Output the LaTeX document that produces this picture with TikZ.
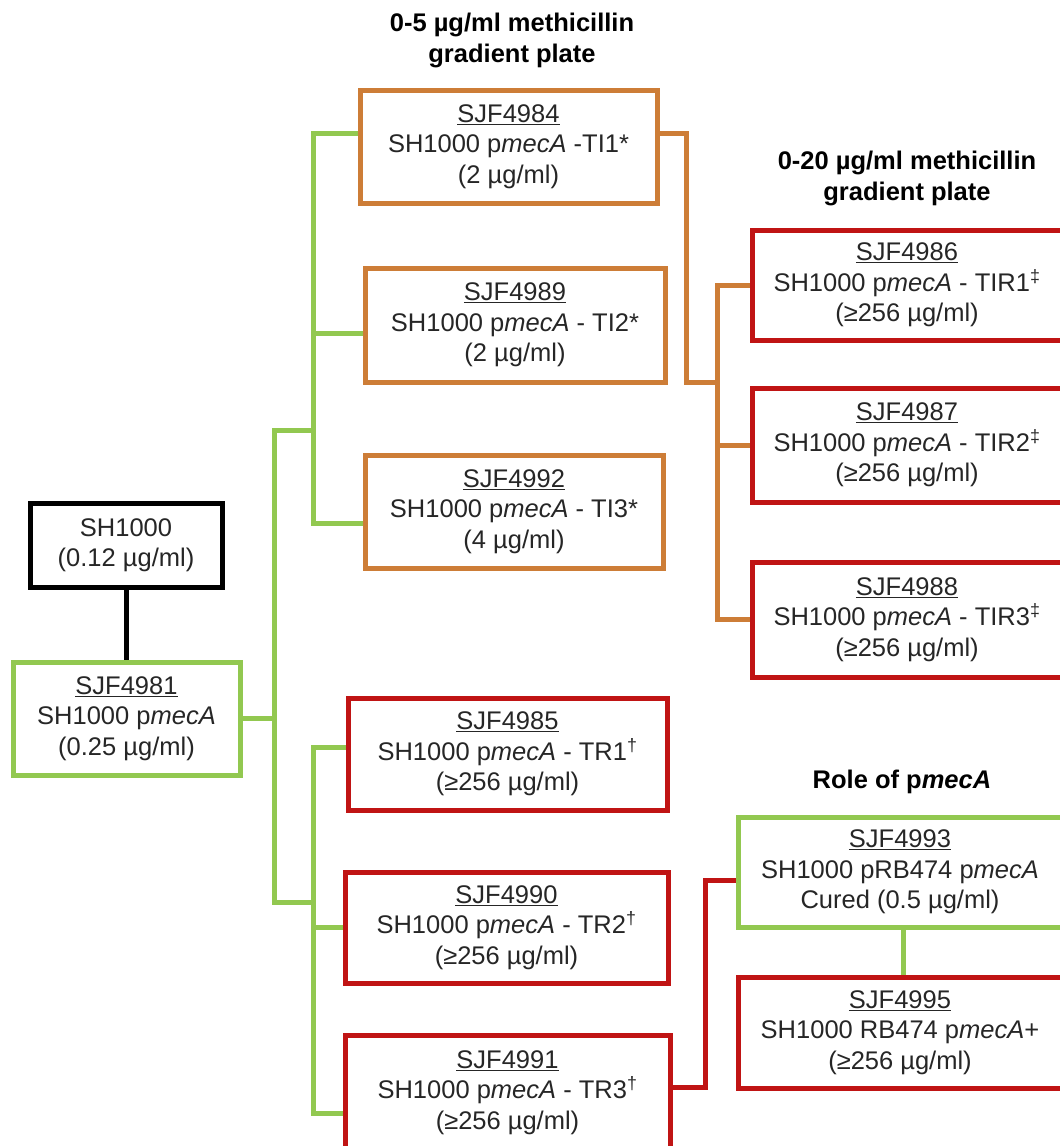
\documentclass[tikz,border=0pt]{standalone}
\usepackage{fontspec}
\setmainfont{Liberation Sans}
\usetikzlibrary{backgrounds}
\definecolor{lgreen}{RGB}{146,200,80}
\definecolor{dorange}{RGB}{205,125,55}
\definecolor{dred}{RGB}{192,20,20}
\definecolor{txt}{RGB}{38,38,38}

\newcommand{\strainid}[1]{\underline{#1}}
\newcommand{\pmecA}{p\textit{mecA}}
\newcommand{\supdag}{\textsuperscript{†}}
\newcommand{\supddag}{\textsuperscript{‡}}

\begin{document}
\begin{tikzpicture}[x=1pt,y=-1pt,
  box/.style={draw=#1, line width=5pt, fill=white, align=center, inner sep=0pt,
    text=txt, font=\fontsize{25.5}{30.5}\selectfont},
  wh/.style 2 args={minimum width=#1, minimum height=#2},
  title/.style={align=center, inner sep=0pt, font=\bfseries\fontsize{25.5}{31}\selectfont},
  link/.style={draw=#1, line width=5pt, line cap=rect, line join=miter}]

\useasboundingbox (0,0) rectangle (1060,1146);
\clip (0,0) rectangle (1060,1146);

% column headings
\node[title] (t1) at (512,40) {0-5 µg/ml methicillin\\gradient plate};
\node[title] (t2) at (907,178) {0-20 µg/ml methicillin\\gradient plate};
\node[title] (t3) at (902,782) {Role of p\textit{mecA}};

% parent strains
\node[box=black, wh={192}{84}] (sh) at (126,545) {SH1000\\(0.12 µg/ml)};
\node[box=lgreen, wh={227}{113}] (s4981) at (126.5,718.5)
  {\strainid{SJF4981}\\SH1000 \pmecA\\(0.25 µg/ml)};

% intermediate strains (0-5 plate)
\node[box=dorange, wh={297}{113}] (s4984) at (508.5,146.5)
  {\strainid{SJF4984}\\SH1000 \pmecA\ -TI1*\\(2 µg/ml)};
\node[box=dorange, wh={300}{114}] (s4989) at (515,325)
  {\strainid{SJF4989}\\SH1000 \pmecA\ - TI2*\\(2 µg/ml)};
\node[box=dorange, wh={298}{113}] (s4992) at (514,511.5)
  {\strainid{SJF4992}\\SH1000 \pmecA\ - TI3*\\(4 µg/ml)};

% resistant strains from the 0-20 plate
\node[box=dred, wh={310}{110}] (s4986) at (907,285)
  {\strainid{SJF4986}\\SH1000 \pmecA\ - TIR1\supddag\\(≥256 µg/ml)};
\node[box=dred, wh={310}{114}] (s4987) at (907,445)
  {\strainid{SJF4987}\\SH1000 \pmecA\ - TIR2\supddag\\(≥256 µg/ml)};
\node[box=dred, wh={310}{115}] (s4988) at (907,619.5)
  {\strainid{SJF4988}\\SH1000 \pmecA\ - TIR3\supddag\\(≥256 µg/ml)};

% directly resistant strains
\node[box=dred, wh={319}{112}] (s4985) at (507.5,754)
  {\strainid{SJF4985}\\SH1000 \pmecA\ - TR1\supdag\\(≥256 µg/ml)};
\node[box=dred, wh={323}{111}] (s4990) at (506.5,927.5)
  {\strainid{SJF4990}\\SH1000 \pmecA\ - TR2\supdag\\(≥256 µg/ml)};
\node[box=dred, wh={325}{115}] (s4991) at (507.5,1092.5)
  {\strainid{SJF4991}\\SH1000 \pmecA\ - TR3\supdag\\(≥256 µg/ml)};

% role of pmecA
\node[box=lgreen, wh={324}{110}] (s4993) at (900,872)
  {\strainid{SJF4993}\\SH1000 pRB474 \pmecA\\Cured (0.5 µg/ml)};
\node[box=dred, wh={324}{111}] (s4995) at (900,1032.5)
  {\strainid{SJF4995}\\SH1000 RB474 \pmecA+\\(≥256 µg/ml)};

% junction points of the trees
\coordinate (gA) at (274,718.5);
\coordinate (gTop) at (274,430);
\coordinate (gBot) at (274,902);
\coordinate (uTop) at (313,430);
\coordinate (lTop) at (313,902);
\coordinate (u1) at (313,133);
\coordinate (u3) at (313,523);
\coordinate (l1) at (313,747);
\coordinate (l3) at (313,1113);
\coordinate (o1) at (686,133);
\coordinate (o2) at (686,382);
\coordinate (o3) at (717,382);
\coordinate (oTop) at (717,285);
\coordinate (oBot) at (717,619.5);
\coordinate (r1) at (705,1087);
\coordinate (r2) at (705,880);
\coordinate (cx) at (903,0);

\begin{pgfonlayer}{background}
  \draw[link=black] (sh.south) -- (sh.south |- s4981.north);
  % main green trunk
  \draw[link=lgreen] (s4981.east) -- (gA);
  \draw[link=lgreen] (uTop) -- (gTop) -- (gBot) -- (lTop);
  % upper green tree
  \draw[link=lgreen] ([yshift=13.5pt]s4984.west) -- (u1) -- (u3) -- ([yshift=-11.5pt]s4992.west);
  \draw[link=lgreen] ([yshift=-8pt]s4989.west) -- ([yshift=-8pt]s4989.west -| u1);
  % lower green tree
  \draw[link=lgreen] ([yshift=7pt]s4985.west) -- (l1) -- (l3) -- ([yshift=-20.5pt]s4991.west);
  \draw[link=lgreen] (s4990.west) -- (s4990.west -| l1);
  % orange tree
  \draw[link=dorange] ([yshift=13.5pt]s4984.east) -- (o1) -- (o2) -- (o3);
  \draw[link=dorange] (s4986.west) -- (oTop) -- (oBot) -- (s4988.west);
  \draw[link=dorange] (s4987.west) -- (s4987.west -| oTop);
  % red link to the cured strain
  \draw[link=dred] ([yshift=5.5pt]s4991.east) -- (r1) -- (r2) -- ([yshift=-8pt]s4993.west);
  % cured strain to complemented strain
  \draw[link=lgreen] (s4993.south -| cx) -- (s4995.north -| cx);
\end{pgfonlayer}
\end{tikzpicture}
\end{document}
